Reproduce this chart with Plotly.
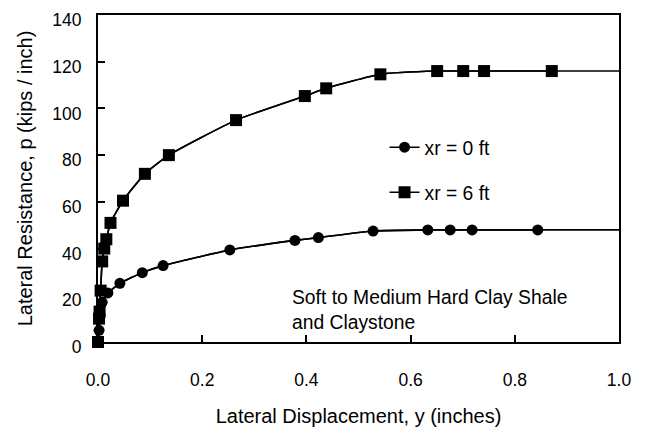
import plotly.graph_objects as go

# Data
x_circle = [0.0, 0.002, 0.004, 0.008, 0.019, 0.042, 0.085, 0.125, 0.253, 0.378, 0.423, 0.528, 0.633, 0.676, 0.718, 0.844]
y_circle = [0.0, 5.0, 11.6, 17.0, 21.0, 25.1, 29.7, 32.7, 39.4, 43.5, 44.7, 47.5, 48.0, 48.0, 48.0, 48.0]

x_square = [0.0, 0.002, 0.003, 0.005, 0.008, 0.012, 0.016, 0.024, 0.048, 0.090, 0.136, 0.265, 0.397, 0.438, 0.542, 0.651, 0.701, 0.741, 0.871]
y_square = [0.0, 10.0, 13.0, 22.0, 34.5, 40.0, 44.0, 51.0, 60.5, 72.0, 80.0, 95.0, 105.3, 108.6, 114.6, 116.0, 116.0, 116.0, 116.0]

x_end = 1.0  # curves continue flat to the right edge of the plot

x_ticks = [0.0, 0.2, 0.4, 0.6, 0.8, 1.0]
x_ticklabels = ["0.0", "0.2", "0.4", "0.6", "0.8", "1.0"]
y_ticks = [0, 20, 40, 60, 80, 100, 120, 140]

FONT = "Arial, Liberation Sans, sans-serif"
LINE = dict(color="black", width=1.6, shape="spline", smoothing=0.5)

fig = go.Figure()

# continuation lines (no markers)
fig.add_trace(go.Scatter(x=x_circle + [x_end], y=y_circle + [y_circle[-1]], mode="lines",
                         line=LINE, showlegend=False, hoverinfo="skip"))
fig.add_trace(go.Scatter(x=x_square + [x_end], y=y_square + [y_square[-1]], mode="lines",
                         line=LINE, showlegend=False, hoverinfo="skip"))

fig.add_trace(go.Scatter(x=x_circle, y=y_circle, mode="lines+markers", name="xr = 0 ft",
                         line=LINE, legendgroup="a",
                         marker=dict(symbol="circle", size=11, color="black"),
                         cliponaxis=False))
fig.add_trace(go.Scatter(x=x_square, y=y_square, mode="lines+markers", name="xr = 6 ft",
                         line=LINE, legendgroup="b",
                         marker=dict(symbol="square", size=12, color="black"),
                         cliponaxis=False))

fig.add_annotation(x=0.368, y=13.7, xref="x", yref="y", xanchor="left", yanchor="middle",
                   text="Soft to Medium Hard Clay Shale<br>and Claystone", showarrow=False,
                   align="left", font=dict(family=FONT, size=19.3, color="black"))

fig.update_layout(
    template="none",
    width=639, height=419,
    margin=dict(l=90, r=28, t=7, b=85),
    paper_bgcolor="white", plot_bgcolor="white",
    font=dict(family=FONT, size=17, color="black"),
    legend=dict(x=0.55, y=0.654, xanchor="left", yanchor="top",
                font=dict(family=FONT, size=19.3, color="black"),
                bgcolor="rgba(0,0,0,0)", tracegroupgap=17, traceorder="grouped",
                itemwidth=30),
    showlegend=True,
)

fig.update_xaxes(range=[0, 1.0], tickvals=x_ticks, ticktext=x_ticklabels, automargin=False,
                 showgrid=False, zeroline=False, showline=True, linecolor="black", linewidth=2,
                 mirror=True, ticks="inside", ticklen=7, tickwidth=1.5, tickcolor="black",
                 ticklabelstandoff=21, ticklabeloverflow="allow",
                 tickfont=dict(family=FONT, size=17.5, color="black"),
                 title=dict(text="Lateral Displacement, y (inches)", standoff=22,
                            font=dict(family=FONT, size=20, color="black")))
fig.update_yaxes(range=[0, 140], tickvals=y_ticks, automargin=False,
                 showgrid=False, zeroline=False, showline=True, linecolor="black", linewidth=2,
                 mirror=True, ticks="inside", ticklen=7, tickwidth=1.5, tickcolor="black",
                 ticklabelstandoff=11, ticklabelshift=5, ticklabeloverflow="allow",
                 tickfont=dict(family=FONT, size=17.5, color="black"),
                 title=dict(text="Lateral Resistance, p (kips / inch)", standoff=14,
                            font=dict(family=FONT, size=20, color="black")))

fig.write_html("out.html")
